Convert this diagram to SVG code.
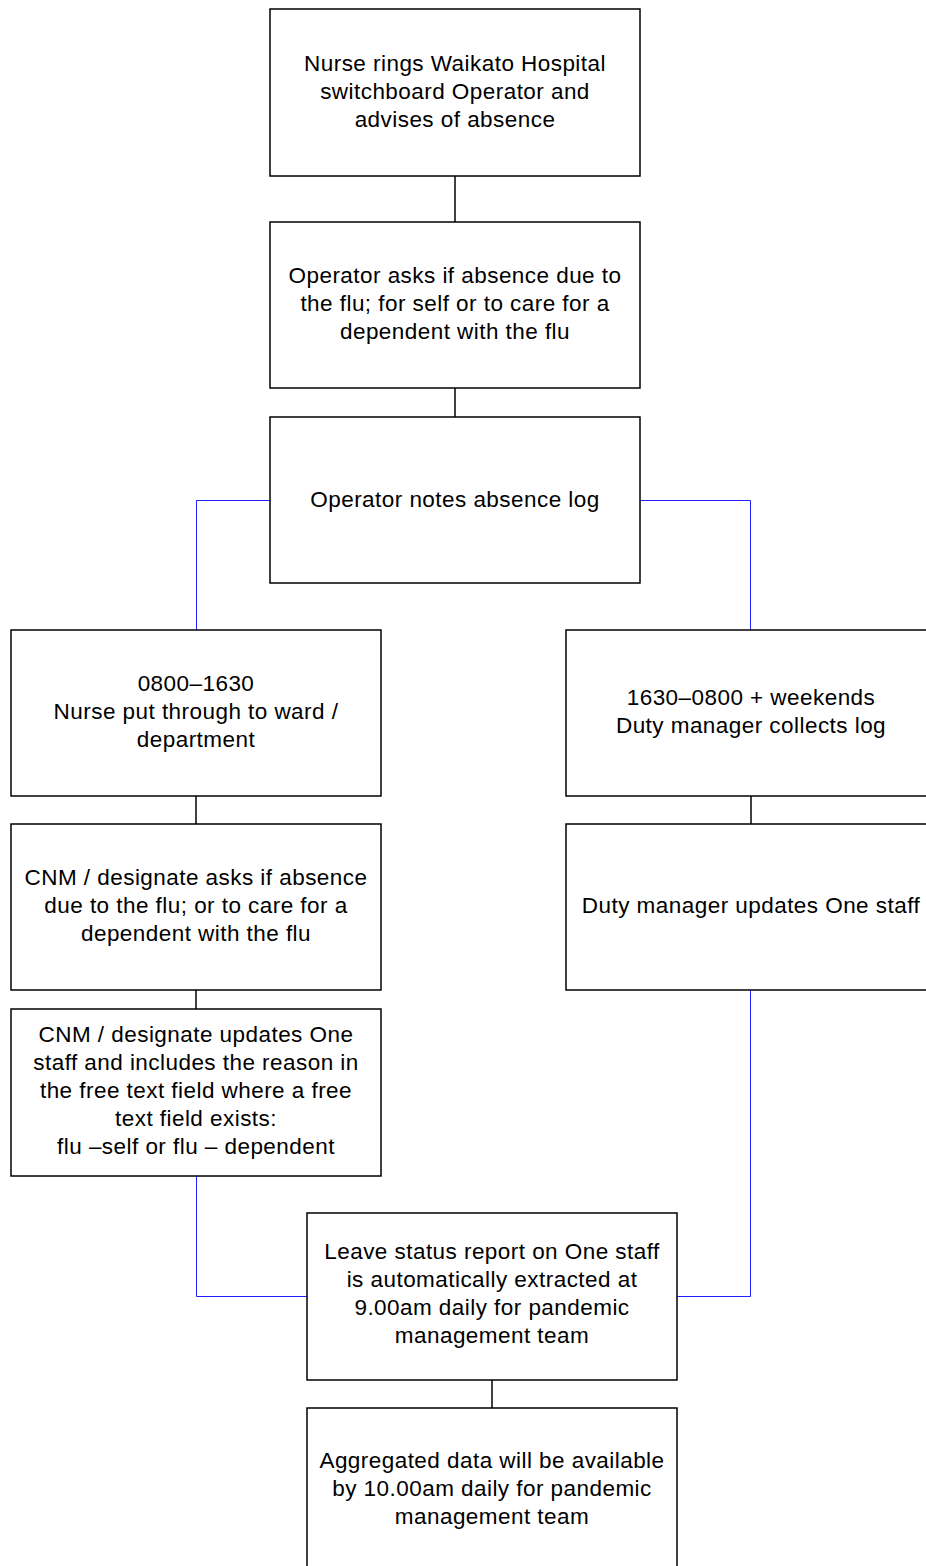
<svg xmlns="http://www.w3.org/2000/svg" width="926" height="1566" viewBox="0 0 926 1566">
<style>
.box{fill:#fff;stroke:#000;stroke-width:1.5}
.t{font-family:"Liberation Sans",Arial,sans-serif;font-size:22.5px;letter-spacing:0.45px;fill:#000;text-anchor:middle}
.k{stroke:#000;stroke-width:1.5;fill:none}
.b{stroke:#2020ff;stroke-width:1;fill:none}
</style>
<rect width="926" height="1566" fill="#fff"/>
<g id="connectors">
<line class="k" x1="455" y1="176" x2="455" y2="222"/>
<line class="k" x1="455" y1="388" x2="455" y2="417"/>
<polyline class="b" points="270,500.5 196.5,500.5 196.5,630"/>
<polyline class="b" points="640,500.5 750.5,500.5 750.5,630"/>
<line class="k" x1="196" y1="796" x2="196" y2="824"/>
<line class="k" x1="196" y1="990" x2="196" y2="1009"/>
<line class="k" x1="751" y1="796" x2="751" y2="824"/>
<polyline class="b" points="196.5,1176 196.5,1296.5 307,1296.5"/>
<polyline class="b" points="750.5,990 750.5,1296.5 677,1296.5"/>
<line class="k" x1="492" y1="1380" x2="492" y2="1408"/>
</g>
<g id="n1"><rect class="box" x="270" y="9" width="370" height="167"/>
<text class="t" x="455" y="71">Nurse rings Waikato Hospital</text>
<text class="t" x="455" y="99">switchboard Operator and</text>
<text class="t" x="455" y="127">advises of absence</text></g>
<g id="n2"><rect class="box" x="270" y="222" width="370" height="166"/>
<text class="t" x="455" y="283">Operator asks if absence due to</text>
<text class="t" x="455" y="311">the flu; for self or to care for a</text>
<text class="t" x="455" y="339">dependent with the flu</text></g>
<g id="n3"><rect class="box" x="270" y="417" width="370" height="166"/>
<text class="t" x="455" y="507">Operator notes absence log</text></g>
<g id="l1"><rect class="box" x="11" y="630" width="370" height="166"/>
<text class="t" x="196" y="691">0800–1630</text>
<text class="t" x="196" y="719">Nurse put through to ward /</text>
<text class="t" x="196" y="747">department</text></g>
<g id="l2"><rect class="box" x="11" y="824" width="370" height="166"/>
<text class="t" x="196" y="885">CNM / designate asks if absence</text>
<text class="t" x="196" y="913">due to the flu; or to care for a</text>
<text class="t" x="196" y="941">dependent with the flu</text></g>
<g id="l3"><rect class="box" x="11" y="1009" width="370" height="167"/>
<text class="t" x="196" y="1042">CNM / designate updates One</text>
<text class="t" x="196" y="1070">staff and includes the reason in</text>
<text class="t" x="196" y="1098">the free text field where a free</text>
<text class="t" x="196" y="1126">text field exists:</text>
<text class="t" x="196" y="1154">flu –self or flu – dependent</text></g>
<g id="r1"><rect class="box" x="566" y="630" width="370" height="166"/>
<text class="t" x="751" y="705">1630–0800 + weekends</text>
<text class="t" x="751" y="733">Duty manager collects log</text></g>
<g id="r2"><rect class="box" x="566" y="824" width="370" height="166"/>
<text class="t" x="751" y="913">Duty manager updates One staff</text></g>
<g id="b1"><rect class="box" x="307" y="1213" width="370" height="167"/>
<text class="t" x="492" y="1259">Leave status report on One staff</text>
<text class="t" x="492" y="1287">is automatically extracted at</text>
<text class="t" x="492" y="1315">9.00am daily for pandemic</text>
<text class="t" x="492" y="1343">management team</text></g>
<g id="b2"><rect class="box" x="307" y="1408" width="370" height="170"/>
<text class="t" x="492" y="1468">Aggregated data will be available</text>
<text class="t" x="492" y="1496">by 10.00am daily for pandemic</text>
<text class="t" x="492" y="1524">management team</text></g>
</svg>
